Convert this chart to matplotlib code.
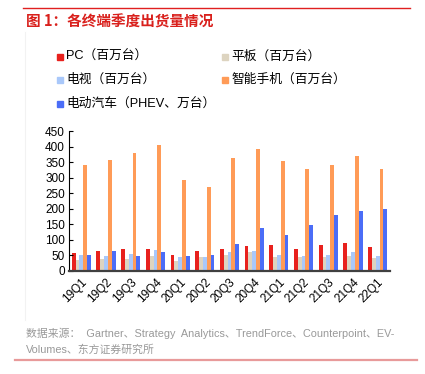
import numpy as np
import matplotlib
matplotlib.use("Agg")
import matplotlib.pyplot as plt
from matplotlib.patches import Rectangle
from matplotlib.lines import Line2D

plt.rcParams['font.family'] = ['Liberation Sans', 'Noto Sans CJK SC', 'DejaVu Sans']

# data
quarters = ["19Q1", "19Q2", "19Q3", "19Q4", "20Q1", "20Q2", "20Q3",
            "20Q4", "21Q1", "21Q2", "21Q3", "21Q4", "22Q1"]
pc = [58, 63, 68, 70, 50, 63, 70, 78, 82, 70, 82, 88, 76]
tablet = [35, 36, 38, 48, 31, 43, 50, 61, 45, 45, 45, 46, 39]
tv = [49, 47, 54, 65, 44, 44, 60, 64, 49, 47, 50, 59, 47]
phone = [341, 357, 380, 407, 294, 270, 365, 394, 354, 328, 341, 370, 328]
ev = [49, 64, 48, 61, 47, 50, 85, 136, 115, 147, 179, 192, 199]

series = [
    ("PC（百万台）", pc, "#e8211d"),
    ("平板（百万台）", tablet, "#ddd4c0"),
    ("电视（百万台）", tv, "#a9c8fa"),
    ("智能手机（百万台）", phone, "#ff9b57"),
    ("电动汽车（PHEV、万台）", ev, "#4b6df7"),
]

fig = plt.figure(figsize=(4.25, 3.74), dpi=100)
W, H = 425, 374

ax = fig.add_axes([69 / W, 1 - 270.5 / H, 321 / W, 139.2 / H])

x = np.arange(len(quarters))
bw = 0.155
for i, (name, vals, col) in enumerate(series):
    ax.bar(x + (i - 2) * bw, vals, width=bw, color=col, edgecolor="none")

ax.set_xlim(-0.5, len(quarters) - 0.5)
ax.set_ylim(0, 450)
ax.set_yticks(range(0, 451, 50))
ax.set_xticks(x)
ax.set_xticklabels(quarters, rotation=45, ha="right", rotation_mode="anchor")
ax.tick_params(axis="y", direction="in", length=3, width=0.8, labelsize=8.5, pad=3)
ax.tick_params(axis="x", length=0, labelsize=8.5, pad=4)
for s in ["top", "right"]:
    ax.spines[s].set_visible(False)
ax.spines["left"].set_linewidth(0.8)
ax.spines["bottom"].set_linewidth(1.6)
ax.spines["bottom"].set_color("#404040")

# manual legend, two columns like the reference
pos = [(57, 57), (222, 57), (57, 80), (222, 80), (57, 104)]
for (name, vals, col), (px, py) in zip(series, pos):
    fig.add_artist(Rectangle((px / W, 1 - (py + 3) / H), 6 / W, 6 / H,
                             transform=fig.transFigure, color=col))
    fig.text((px + 9) / W, 1 - py / H, name, fontsize=9.2, va="center", ha="left")

# title and frame lines
fig.add_artist(Line2D([23 / W, 410 / W], [1 - 8 / H, 1 - 8 / H], color="#e02020", lw=1))
fig.text(26 / W, 1 - 22 / H, "图 1：各终端季度出货量情况", color="#d9201c",
         fontsize=10.5, fontweight="bold", va="center", ha="left",
         family=["Noto Sans CJK SC"])
fig.add_artist(Line2D([25 / W, 25 / W], [1 - 32 / H, 1 - 320 / H], color="#f2f2f2", lw=0.8))
fig.add_artist(Line2D([15 / W, 417 / W], [1 - 359.5 / H, 1 - 359.5 / H], color="#e89a9a", lw=1.6))

fig.text(26 / W, 1 - 333 / H,
         "数据来源：  Gartner、Strategy  Analytics、TrendForce、Counterpoint、EV-",
         color="#999999", fontsize=7.8, va="center", ha="left")
fig.text(26 / W, 1 - 350 / H, "Volumes、东方证券研究所",
         color="#999999", fontsize=7.8, va="center", ha="left")

fig.savefig("out.png", dpi=100)
